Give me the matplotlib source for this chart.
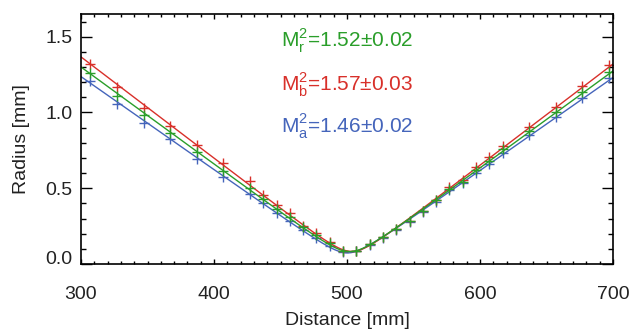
import numpy as np
import matplotlib
matplotlib.use('Agg')
import matplotlib.pyplot as plt
from matplotlib.ticker import MultipleLocator
import matplotlib.transforms as mtransforms

plt.rcParams['font.family'] = ['Liberation Sans', 'DejaVu Sans']
plt.rcParams['mathtext.fontset'] = 'custom'
plt.rcParams['mathtext.rm'] = 'Liberation Sans'

# measurement positions [mm]
distance = [307, 327, 347, 367, 387, 407, 427, 437, 447, 457, 467, 477, 487, 497, 507,
            517, 527, 537, 547, 557, 567, 577, 587, 597, 607, 617, 637, 657, 677, 697]

# beam radius [mm] for each channel
radius_r = [1.262, 1.110, 0.983, 0.862, 0.737, 0.613, 0.499, 0.427, 0.365, 0.312, 0.245,
            0.191, 0.136, 0.086, 0.085, 0.130, 0.176, 0.229, 0.283, 0.350, 0.420, 0.497,
            0.543, 0.620, 0.679, 0.759, 0.877, 1.000, 1.133, 1.269]
radius_b = [1.317, 1.170, 1.027, 0.910, 0.785, 0.664, 0.547, 0.455, 0.389, 0.339, 0.251,
            0.202, 0.147, 0.088, 0.088, 0.130, 0.176, 0.229, 0.286, 0.352, 0.422, 0.506,
            0.554, 0.642, 0.704, 0.780, 0.906, 1.033, 1.176, 1.313]
radius_a = [1.209, 1.053, 0.928, 0.822, 0.693, 0.576, 0.460, 0.405, 0.334, 0.286, 0.224,
            0.170, 0.121, 0.079, 0.083, 0.125, 0.170, 0.222, 0.280, 0.345, 0.412, 0.488,
            0.535, 0.602, 0.658, 0.730, 0.851, 0.972, 1.093, 1.225]

labels = [r'M$_\mathregular{r}^\mathregular{2}$=1.52±0.02',
          r'M$_\mathregular{b}^\mathregular{2}$=1.57±0.03',
          r'M$_\mathregular{a}^\mathregular{2}$=1.46±0.02']

green = '#2a9e2a'
red = '#d8302a'
blue = '#4565bb'

fig = plt.figure(figsize=(6.31, 3.35), dpi=100)
ax = fig.add_axes([0.1284, 0.2119, 0.8431, 0.7463])

z = np.array(distance, dtype=float)
zfit = np.linspace(300, 700, 401)

# blue, red, then green on top
for r, col in [(radius_a, blue), (radius_b, red), (radius_r, green)]:
    r = np.array(r)
    # caustic fit: w^2 is quadratic in z (weights give equal error in w)
    p = np.polyfit(z, r ** 2, 2, w=1.0 / r)
    ax.plot(zfit, np.sqrt(np.polyval(p, zfit)), color=col, lw=1.0)
    ax.plot(z, r, '+', color=col, ms=7, mew=1.0)

for txt, col, yy in zip(labels, [green, red, blue], [0.869, 0.693, 0.523]):
    ax.text(0.376, yy, txt, transform=ax.transAxes, color=col, fontsize=15,
            ha='left', va='baseline')

ax.set_xlim(300, 700)
ax.set_ylim(0, 1.65)
ax.set_xticks([300, 400, 500, 600, 700])
ax.set_yticks([0.0, 0.5, 1.0, 1.5])
ax.set_yticklabels(['0.0', '0.5', '1.0', '1.5'])
ax.xaxis.set_minor_locator(MultipleLocator(10))
ax.yaxis.set_minor_locator(MultipleLocator(0.1))

ax.tick_params(axis='both', which='both', direction='in', top=True, right=True,
               colors='black', labelcolor='#222222', labelsize=14, width=1.0)
ax.tick_params(axis='x', which='major', length=3.8, pad=16)
ax.tick_params(axis='x', which='minor', length=1.9)
ax.tick_params(axis='y', which='major', length=7.8, pad=6)
ax.tick_params(axis='y', which='minor', length=3.9)
for s in ax.spines.values():
    s.set_linewidth(1.2)

# lift the bottom y label a bit, like the original
lbl0 = ax.get_yticklabels()[0]
lbl0.set_transform(lbl0.get_transform() +
                   mtransforms.ScaledTranslation(0, 7 / 100, fig.dpi_scale_trans))

ax.set_xlabel('Distance [mm]', fontsize=14, color='#222222', labelpad=6)
ax.set_ylabel('Radius [mm]', fontsize=14, color='#222222', labelpad=11)

fig.savefig('out.png', dpi=100)
